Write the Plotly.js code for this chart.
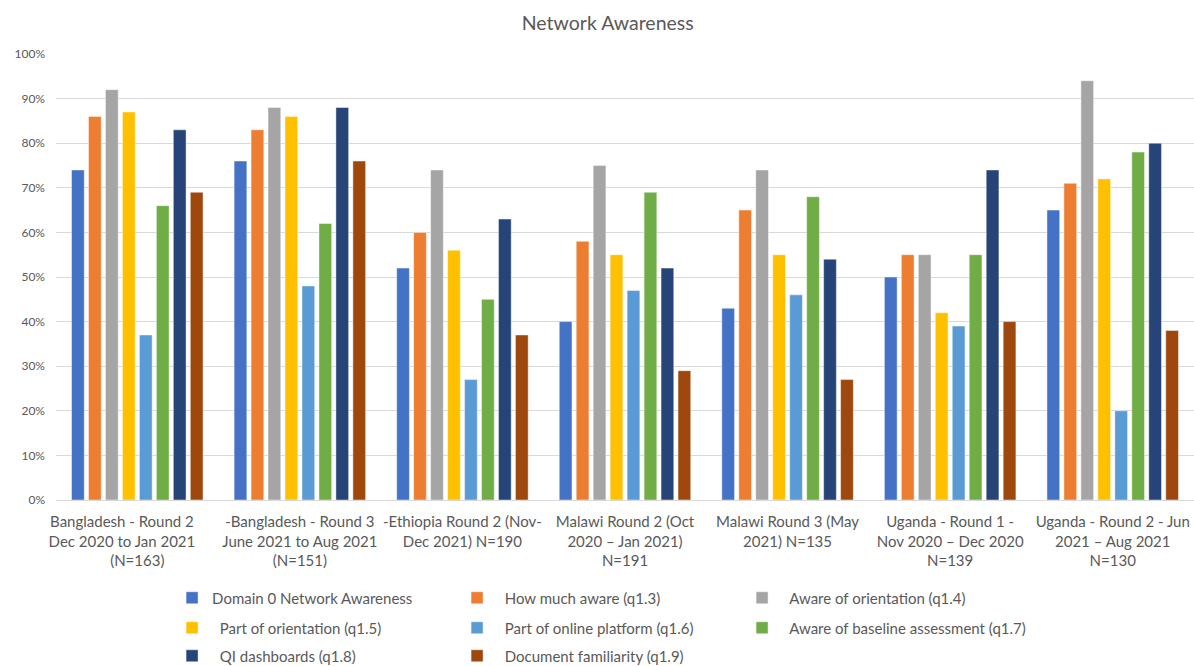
<!DOCTYPE html>
<html>
<head>
<meta charset="utf-8">
<script src="https://cdn.plot.ly/plotly-3.0.1.min.js"></script>
<style>html,body{margin:0;padding:0;background:#fff;}#chart{width:1194px;height:666px;}</style>
</head>
<body>
<div id="chart"></div>
<script>
const categories = [
  "Bangladesh - Round 2&nbsp;&nbsp;&nbsp;&nbsp;&nbsp;&nbsp;&nbsp;&nbsp;<br>Dec 2020 to Jan 2021&nbsp;&nbsp;&nbsp;&nbsp;&nbsp;&nbsp;&nbsp;&nbsp;<br>(N=163)",
  "-Bangladesh - Round 3<br>June 2021 to Aug 2021<br>(N=151)",
  "-Ethiopia Round 2 (Nov-<br>Dec 2021) N=190",
  "Malawi Round 2 (Oct<br>2020 – Jan 2021)<br>N=191",
  "Malawi Round 3 (May<br>2021) N=135",
  "Uganda - Round 1 -<br>Nov 2020 – Dec 2020<br>N=139",
  "Uganda - Round 2 - Jun<br>2021 – Aug 2021<br>N=130"
];
const seriesNames = [
  "Domain 0 Network Awareness",
  "&nbsp;&nbsp;How much aware (q1.3)",
  "&nbsp;&nbsp;Aware of orientation (q1.4)",
  "&nbsp;&nbsp;Part of orientation (q1.5)",
  "&nbsp;&nbsp;Part of online platform (q1.6)",
  "&nbsp;&nbsp;Aware of baseline assessment (q1.7)",
  "&nbsp;&nbsp;QI dashboards (q1.8)",
  "&nbsp;&nbsp;Document familiarity (q1.9)"
];
const domain0 = [0.74, 0.76, 0.52, 0.40, 0.43, 0.50, 0.65];
const howMuchAware = [0.86, 0.83, 0.60, 0.58, 0.65, 0.55, 0.71];
const awareOrientation = [0.92, 0.88, 0.74, 0.75, 0.74, 0.55, 0.94];
const partOrientation = [0.87, 0.86, 0.56, 0.55, 0.55, 0.42, 0.72];
const onlinePlatform = [0.37, 0.48, 0.27, 0.47, 0.46, 0.39, 0.20];
const baselineAssessment = [0.66, 0.62, 0.45, 0.69, 0.68, 0.55, 0.78];
const qiDashboards = [0.83, 0.88, 0.63, 0.52, 0.54, 0.74, 0.80];
const documentFamiliarity = [0.69, 0.76, 0.37, 0.29, 0.27, 0.40, 0.38];
const colors = ["#4472C4", "#ED7D31", "#A5A5A5", "#FFC000", "#5B9BD5", "#70AD47", "#264478", "#9E480E"];
const legendRows = ["legend", "legend", "legend", "legend2", "legend2", "legend2", "legend3", "legend3"];

const allSeries = [domain0, howMuchAware, awareOrientation, partOrientation, onlinePlatform, baselineAssessment, qiDashboards, documentFamiliarity];
const traces = allSeries.map((vals, i) => ({
  type: "bar",
  name: seriesNames[i],
  x: categories,
  y: vals,
  legend: legendRows[i],
  marker: {color: colors[i], line: {color: "rgba(255,255,255,0.6)", width: 0.75}},
  hoverinfo: "x+y"
}));

function legendAt(y) {
  return {
    orientation: "h",
    x: 0.102,
    xanchor: "left",
    y: y,
    yref: "container",
    yanchor: "middle",
    entrywidth: 240,
    entrywidthmode: "pixels",
    traceorder: "normal",
    font: {size: 15, color: "#595959"},
    bgcolor: "rgba(0,0,0,0)"
  };
}

const layout = {
  width: 1194,
  height: 666,
  paper_bgcolor: "#ffffff",
  plot_bgcolor: "#ffffff",
  font: {family: "Lato, 'Liberation Sans', sans-serif", color: "#595959", size: 15},
  title: {text: "Network Awareness", x: 0.509, xanchor: "center", y: 0.975, yanchor: "top", font: {size: 19.5, color: "#595959"}},
  margin: {l: 56, r: 0, t: 54, b: 166},
  barmode: "group",
  bargap: 0.165,
  bargroupgap: 0.25,
  xaxis: {
    showgrid: false,
    showline: true,
    linecolor: "#d9d9d9",
    linewidth: 1,
    ticks: "",
    tickangle: 0,
    ticklabelstandoff: 8,
    tickfont: {size: 15, color: "#595959"},
    automargin: false
  },
  yaxis: {
    range: [0, 1.0],
    dtick: 0.1,
    tickformat: ".0%",
    showgrid: true,
    gridcolor: "#d9d9d9",
    gridwidth: 1,
    zeroline: false,
    showline: false,
    ticks: "",
    ticklabelstandoff: 10,
    tickfont: {size: 12, color: "#595959"},
    automargin: false
  },
  legend: legendAt(1 - 598 / 666),
  legend2: legendAt(1 - 628 / 666),
  legend3: legendAt(1 - 656 / 666),
  showlegend: true
};

Plotly.newPlot("chart", traces, layout, {displayModeBar: false, staticPlot: true});
</script>
</body>
</html>
